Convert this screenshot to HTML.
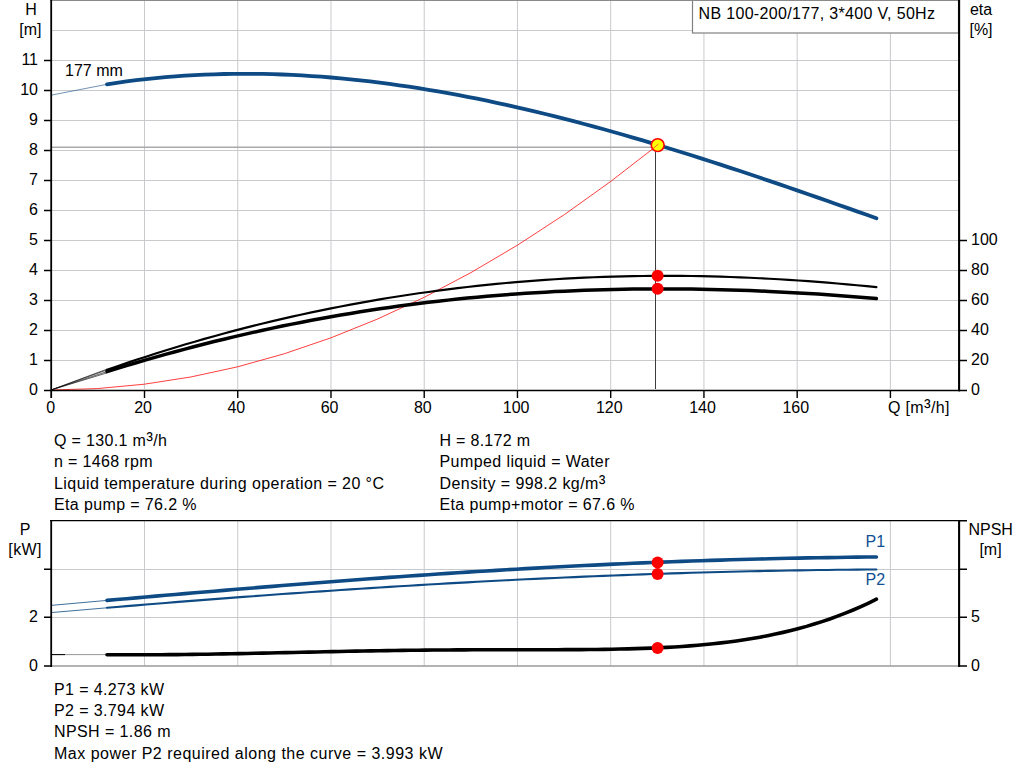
<!DOCTYPE html>
<html><head><meta charset="utf-8"><title>NB 100-200/177 pump curve</title>
<style>html,body{margin:0;padding:0;background:#fff}svg{display:block}text{font-family:"Liberation Sans",sans-serif;font-size:16px;fill:#000}</style></head><body>
<svg width="1024" height="781" viewBox="0 0 1024 781">
<rect width="1024" height="781" fill="#fff"/>
<path d="M52 360.5H958 M52 330.5H958 M52 300.5H958 M52 270.5H958 M52 240.5H958 M52 210.5H958 M52 180.5H958 M52 150.5H958 M52 120.5H958 M52 90.5H958 M52 60.5H958 M52 30.5H958 M144.50 1V389 M237.74 1V389 M330.98 1V389 M424.22 1V389 M517.46 1V389 M610.70 1V389 M703.94 1V389 M797.18 1V389 M890.42 1V389" stroke="#c8cacd" stroke-width="1" fill="none"/>
<rect x="692.5" y="-2" width="266" height="35" fill="#fff" stroke="#808080" stroke-width="1.2"/>
<path d="M50 0.4H960" stroke="#8a8a8a" stroke-width="1.2"/>
<path d="M52 147.2H656" stroke="#a9a9a9" stroke-width="1.6"/>
<path d="M655.5 147V389" stroke="#3c3c3c" stroke-width="1"/>
<polyline points="51.0,390.00 97.7,388.55 144.3,384.20 191.0,376.95 237.7,366.80 284.3,353.76 331.0,337.81 377.7,318.96 424.4,297.22 471.0,272.57 517.7,245.03 564.4,214.59 611.0,181.24 657.7,145.00" fill="none" stroke="#ff1c1c" stroke-width="0.85"/>
<path d="M51 390L107 369.9M51 390L107 371.6M51 390L107 372.9M51 390L107 369.1" stroke="#000" stroke-width="0.6" fill="none"/>
<polyline points="107.0,369.86 116.7,366.45 126.5,363.11 136.2,359.85 146.0,356.65 155.7,353.52 165.4,350.46 175.2,347.47 184.9,344.54 194.7,341.68 204.4,338.89 214.1,336.16 223.9,333.50 233.6,330.90 243.3,328.36 253.1,325.89 262.8,323.49 272.6,321.14 282.3,318.86 292.0,316.64 301.8,314.48 311.5,312.39 321.3,310.35 331.0,308.38 340.7,306.47 350.5,304.61 360.2,302.82 370.0,301.09 379.7,299.42 389.4,297.80 399.2,296.25 408.9,294.75 418.7,293.31 428.4,291.94 438.1,290.62 447.9,289.35 457.6,288.15 467.4,287.00 477.1,285.92 486.8,284.88 496.6,283.91 506.3,282.99 516.0,282.13 525.8,281.32 535.5,280.58 545.3,279.88 555.0,279.25 564.7,278.66 574.5,278.14 584.2,277.67 594.0,277.25 603.7,276.89 613.4,276.58 623.2,276.33 632.9,276.12 642.7,275.98 652.4,275.88 662.1,275.84 671.9,275.85 681.6,275.91 691.4,276.02 701.1,276.18 710.8,276.40 720.6,276.66 730.3,276.97 740.1,277.33 749.8,277.74 759.5,278.20 769.3,278.70 779.0,279.25 788.7,279.85 798.5,280.49 808.2,281.18 818.0,281.91 827.7,282.68 837.4,283.49 847.2,284.35 856.9,285.24 866.7,286.18 876.4,287.15" fill="none" stroke="#000" stroke-width="2.15" stroke-linecap="round"/>
<polyline points="107.0,371.60 116.7,368.59 126.5,365.64 136.2,362.74 146.0,359.90 155.7,357.11 165.4,354.38 175.2,351.70 184.9,349.08 194.7,346.52 204.4,344.02 214.1,341.57 223.9,339.19 233.6,336.86 243.3,334.58 253.1,332.37 262.8,330.22 272.6,328.12 282.3,326.08 292.0,324.10 301.8,322.17 311.5,320.31 321.3,318.50 331.0,316.75 340.7,315.05 350.5,313.42 360.2,311.84 370.0,310.31 379.7,308.85 389.4,307.43 399.2,306.08 408.9,304.78 418.7,303.53 428.4,302.34 438.1,301.20 447.9,300.12 457.6,299.09 467.4,298.11 477.1,297.19 486.8,296.31 496.6,295.49 506.3,294.72 516.0,294.00 525.8,293.33 535.5,292.71 545.3,292.14 555.0,291.62 564.7,291.14 574.5,290.71 584.2,290.33 594.0,290.00 603.7,289.71 613.4,289.47 623.2,289.27 632.9,289.12 642.7,289.01 652.4,288.95 662.1,288.93 671.9,288.95 681.6,289.01 691.4,289.12 701.1,289.27 710.8,289.45 720.6,289.68 730.3,289.95 740.1,290.26 749.8,290.61 759.5,291.00 769.3,291.42 779.0,291.89 788.7,292.39 798.5,292.93 808.2,293.51 818.0,294.12 827.7,294.77 837.4,295.46 847.2,296.19 856.9,296.95 866.7,297.75 876.4,298.59" fill="none" stroke="#000" stroke-width="3.5" stroke-linecap="round"/>
<path d="M51 95.2L107 84.3" stroke="#0e4a84" stroke-width="0.6"/>
<polyline points="107.0,84.32 116.7,82.84 126.5,81.48 136.2,80.24 146.0,79.11 155.7,78.09 165.4,77.19 175.2,76.39 184.9,75.71 194.7,75.13 204.4,74.65 214.1,74.28 223.9,74.02 233.6,73.85 243.3,73.79 253.1,73.82 262.8,73.95 272.6,74.18 282.3,74.50 292.0,74.92 301.8,75.43 311.5,76.03 321.3,76.72 331.0,77.49 340.7,78.35 350.5,79.30 360.2,80.33 370.0,81.45 379.7,82.64 389.4,83.91 399.2,85.27 408.9,86.69 418.7,88.20 428.4,89.78 438.1,91.43 447.9,93.15 457.6,94.94 467.4,96.80 477.1,98.73 486.8,100.72 496.6,102.78 506.3,104.90 516.0,107.08 525.8,109.33 535.5,111.63 545.3,113.99 555.0,116.40 564.7,118.87 574.5,121.39 584.2,123.97 594.0,126.59 603.7,129.26 613.4,131.98 623.2,134.75 632.9,137.56 642.7,140.42 652.4,143.32 662.1,146.26 671.9,149.23 681.6,152.25 691.4,155.30 701.1,158.39 710.8,161.50 720.6,164.66 730.3,167.84 740.1,171.05 749.8,174.29 759.5,177.56 769.3,180.85 779.0,184.16 788.7,187.50 798.5,190.85 808.2,194.23 818.0,197.62 827.7,201.03 837.4,204.45 847.2,207.89 856.9,211.34 866.7,214.80 876.4,218.27" fill="none" stroke="#0e4a84" stroke-width="3.8" stroke-linecap="round"/>
<path d="M51.2 0V398" stroke="#000" stroke-width="1.8" fill="none"/><path d="M959.1 0V391.2" stroke="#000" stroke-width="2.1" fill="none"/><path d="M44 390.45H960" stroke="#000" stroke-width="1.6" fill="none"/>
<path d="M44 360.5H51 M44 330.5H51 M44 300.5H51 M44 270.5H51 M44 240.5H51 M44 210.5H51 M44 180.5H51 M44 150.5H51 M44 120.5H51 M44 90.5H51 M44 60.5H51 M959 390.5H967 M959 360.5H967 M959 330.5H967 M959 300.5H967 M959 270.5H967 M959 240.5H967" stroke="#000" stroke-width="1.6" fill="none"/>
<path d="M144.50 390V398 M237.74 390V398 M330.98 390V398 M424.22 390V398 M517.46 390V398 M610.70 390V398 M703.94 390V398 M797.18 390V398 M890.42 390V398" stroke="#000" stroke-width="1.4" fill="none"/>
<circle cx="657.6" cy="275.7" r="6" fill="#f00"/><circle cx="657.6" cy="288.7" r="6" fill="#f00"/>
<circle cx="657.7" cy="145.1" r="6.4" fill="#ff0" stroke="#f00" stroke-width="1.6"/>
<path d="M650 151L658.5 144" stroke="#ff3a2a" stroke-width="0.8"/>
<text x="38" y="394.8" text-anchor="end">0</text>
<text x="38" y="364.8" text-anchor="end">1</text>
<text x="38" y="334.8" text-anchor="end">2</text>
<text x="38" y="304.8" text-anchor="end">3</text>
<text x="38" y="274.8" text-anchor="end">4</text>
<text x="38" y="244.8" text-anchor="end">5</text>
<text x="38" y="214.8" text-anchor="end">6</text>
<text x="38" y="184.8" text-anchor="end">7</text>
<text x="38" y="154.8" text-anchor="end">8</text>
<text x="38" y="124.8" text-anchor="end">9</text>
<text x="38" y="94.8" text-anchor="end">10</text>
<text x="38" y="64.8" text-anchor="end">11</text>
<text x="971" y="394.8">0</text>
<text x="971" y="364.8">20</text>
<text x="971" y="334.8">40</text>
<text x="971" y="304.8">60</text>
<text x="971" y="274.8">80</text>
<text x="971" y="244.8">100</text>
<text x="50.8" y="412.8" text-anchor="middle">0</text>
<text x="143.1" y="412.8" text-anchor="middle">20</text>
<text x="236.3" y="412.8" text-anchor="middle">40</text>
<text x="329.6" y="412.8" text-anchor="middle">60</text>
<text x="422.8" y="412.8" text-anchor="middle">80</text>
<text x="516.1" y="412.8" text-anchor="middle">100</text>
<text x="609.3" y="412.8" text-anchor="middle">120</text>
<text x="702.5" y="412.8" text-anchor="middle">140</text>
<text x="795.8" y="412.8" text-anchor="middle">160</text>
<text x="888" y="413" textLength="61.5" lengthAdjust="spacing">Q [m<tspan font-size="20" dy="1">³</tspan><tspan dy="-1">/h]</tspan></text>
<text x="31" y="14.5" text-anchor="middle">H</text>
<text x="30.3" y="34.5" text-anchor="middle">[m]</text>
<text x="981" y="14.5" text-anchor="middle">eta</text>
<text x="981" y="34.5" text-anchor="middle">[%]</text>
<text x="65" y="75.5">177 mm</text>
<text x="698.5" y="18.8" textLength="236.5" lengthAdjust="spacing">NB 100-200/177, 3*400 V, 50Hz</text>
<text x="54" y="445.7" textLength="113" lengthAdjust="spacing">Q = 130.1 m<tspan font-size="20" dy="1">³</tspan><tspan dy="-1">/h</tspan></text>
<text x="54" y="467.1" textLength="98.5" lengthAdjust="spacing">n = 1468 rpm</text>
<text x="54" y="488.6" textLength="330" lengthAdjust="spacing">Liquid temperature during operation = 20 °C</text>
<text x="54" y="510" textLength="142.5" lengthAdjust="spacing">Eta pump = 76.2 %</text>
<text x="439.5" y="445.7" textLength="90.5" lengthAdjust="spacing">H = 8.172 m</text>
<text x="439.5" y="467.1" textLength="170" lengthAdjust="spacing">Pumped liquid = Water</text>
<text x="439.5" y="488.6" textLength="166" lengthAdjust="spacing">Density = 998.2 kg/m<tspan font-size="20" dy="1">³</tspan></text>
<text x="439.5" y="510" textLength="195" lengthAdjust="spacing">Eta pump+motor = 67.6 %</text>
<path d="M52 569.5H958 M52 617.5H958 M144.50 521V666 M237.74 521V666 M330.98 521V666 M424.22 521V666 M517.46 521V666 M610.70 521V666 M703.94 521V666 M797.18 521V666 M890.42 521V666" stroke="#c8cacd" stroke-width="1" fill="none"/>
<path d="M52 666H958" stroke="#9a9a9a" stroke-width="1.5"/>
<path d="M50 520.6H960" stroke="#000" stroke-width="1.3"/>
<path d="M51 605.4L107 600.4M51 612.6L107 607.8" stroke="#0e4a84" stroke-width="0.8" fill="none"/>
<polyline points="107.0,600.38 116.7,599.54 126.5,598.69 136.2,597.85 146.0,597.01 155.7,596.16 165.4,595.33 175.2,594.49 184.9,593.66 194.7,592.83 204.4,592.00 214.1,591.18 223.9,590.36 233.6,589.55 243.3,588.74 253.1,587.94 262.8,587.14 272.6,586.35 282.3,585.56 292.0,584.79 301.8,584.01 311.5,583.25 321.3,582.49 331.0,581.74 340.7,581.00 350.5,580.26 360.2,579.53 370.0,578.81 379.7,578.10 389.4,577.40 399.2,576.71 408.9,576.03 418.7,575.36 428.4,574.69 438.1,574.04 447.9,573.40 457.6,572.76 467.4,572.14 477.1,571.53 486.8,570.93 496.6,570.34 506.3,569.76 516.0,569.19 525.8,568.64 535.5,568.09 545.3,567.56 555.0,567.04 564.7,566.53 574.5,566.03 584.2,565.55 594.0,565.08 603.7,564.62 613.4,564.17 623.2,563.73 632.9,563.31 642.7,562.90 652.4,562.50 662.1,562.12 671.9,561.75 681.6,561.39 691.4,561.04 701.1,560.71 710.8,560.39 720.6,560.09 730.3,559.79 740.1,559.51 749.8,559.25 759.5,558.99 769.3,558.75 779.0,558.52 788.7,558.31 798.5,558.11 808.2,557.92 818.0,557.74 827.7,557.58 837.4,557.43 847.2,557.29 856.9,557.17 866.7,557.06 876.4,556.96" fill="none" stroke="#0e4a84" stroke-width="3.6" stroke-linecap="round"/>
<polyline points="107.0,607.75 116.7,606.94 126.5,606.13 136.2,605.33 146.0,604.53 155.7,603.74 165.4,602.95 175.2,602.17 184.9,601.40 194.7,600.64 204.4,599.88 214.1,599.13 223.9,598.38 233.6,597.64 243.3,596.91 253.1,596.19 262.8,595.47 272.6,594.77 282.3,594.06 292.0,593.37 301.8,592.69 311.5,592.01 321.3,591.34 331.0,590.68 340.7,590.03 350.5,589.38 360.2,588.75 370.0,588.12 379.7,587.50 389.4,586.89 399.2,586.29 408.9,585.70 418.7,585.12 428.4,584.54 438.1,583.98 447.9,583.42 457.6,582.88 467.4,582.34 477.1,581.81 486.8,581.29 496.6,580.79 506.3,580.29 516.0,579.80 525.8,579.32 535.5,578.86 545.3,578.40 555.0,577.95 564.7,577.51 574.5,577.09 584.2,576.67 594.0,576.27 603.7,575.87 613.4,575.49 623.2,575.12 632.9,574.75 642.7,574.40 652.4,574.06 662.1,573.73 671.9,573.42 681.6,573.11 691.4,572.82 701.1,572.53 710.8,572.26 720.6,572.00 730.3,571.75 740.1,571.52 749.8,571.29 759.5,571.08 769.3,570.88 779.0,570.69 788.7,570.52 798.5,570.35 808.2,570.20 818.0,570.06 827.7,569.93 837.4,569.82 847.2,569.72 856.9,569.63 866.7,569.55 876.4,569.49" fill="none" stroke="#0e4a84" stroke-width="2.1" stroke-linecap="round"/>
<path d="M51 654.6H107" stroke="#8a8a8a" stroke-width="0.9"/><path d="M51 654.6H65" stroke="#000" stroke-width="1"/>
<polyline points="107.0,654.73 114.8,654.78 122.5,654.81 130.3,654.82 138.1,654.82 145.9,654.80 153.6,654.77 161.4,654.72 169.2,654.66 176.9,654.59 184.7,654.50 192.5,654.41 200.3,654.30 208.0,654.18 215.8,654.05 223.6,653.92 231.3,653.77 239.1,653.62 246.9,653.47 254.7,653.31 262.4,653.14 270.2,652.97 278.0,652.80 285.7,652.63 293.5,652.46 301.3,652.28 309.1,652.11 316.8,651.94 324.6,651.77 332.4,651.61 340.2,651.45 347.9,651.29 355.7,651.14 363.5,651.00 371.2,650.86 379.0,650.73 386.8,650.61 394.6,650.49 402.3,650.38 410.1,650.29 417.9,650.20 425.6,650.12 433.4,650.04 441.2,649.98 449.0,649.93 456.7,649.88 464.5,649.84 472.3,649.81 480.0,649.78 487.8,649.77 495.6,649.75 503.4,649.74 511.1,649.74 518.9,649.73 526.7,649.73 534.4,649.73 542.2,649.72 550.0,649.71 557.8,649.69 565.5,649.67 573.3,649.63 581.1,649.58 588.8,649.52 596.6,649.44 604.4,649.34 612.2,649.21 619.9,649.06 627.7,648.87 635.5,648.66 643.2,648.40 651.0,648.11 658.8,647.77 666.6,647.38 674.3,646.94 682.1,646.44 689.9,645.87 697.7,645.24 705.4,644.54 713.2,643.76 721.0,642.90 728.7,641.95 736.5,640.91 744.3,639.77 752.1,638.52 759.8,637.17 767.6,635.70 775.4,634.10 783.1,632.38 790.9,630.52 798.7,628.52 806.5,626.37 814.2,624.06 822.0,621.60 829.8,618.96 837.5,616.15 845.3,613.16 853.1,609.98 860.9,606.61 868.6,603.03 876.4,599.24" fill="none" stroke="#000" stroke-width="3.6" stroke-linecap="round"/>
<path d="M51.2 520V667" stroke="#000" stroke-width="1.8" fill="none"/><path d="M959.1 520V667" stroke="#000" stroke-width="2.1" fill="none"/>
<path d="M44 569.2H51M44 617.3H51M44 666H51M959 520.8H967M959 569.2H967M959 617.3H967M959 666H967" stroke="#000" stroke-width="1.6" fill="none"/>
<circle cx="657.6" cy="562.4" r="6" fill="#f00"/><circle cx="657.6" cy="574" r="6" fill="#f00"/><circle cx="657.6" cy="648" r="6" fill="#f00"/>
<text x="38" y="622" text-anchor="end">2</text>
<text x="38" y="670.7" text-anchor="end">0</text>
<text x="971" y="622">5</text>
<text x="971" y="670.7">0</text>
<text x="25" y="534.7" text-anchor="middle">P</text>
<text x="8.3" y="554.7" textLength="33.2" lengthAdjust="spacing">[kW]</text>
<text x="990.7" y="535" text-anchor="middle">NPSH</text>
<text x="990.5" y="555" text-anchor="middle">[m]</text>
<text x="865.5" y="546.8" style="fill:#0f4f94">P1</text>
<text x="865.5" y="585" style="fill:#0f4f94">P2</text>
<text x="54" y="694.5" textLength="110" lengthAdjust="spacing">P1 = 4.273 kW</text>
<text x="54" y="715.9" textLength="110" lengthAdjust="spacing">P2 = 3.794 kW</text>
<text x="54" y="737.4" textLength="116.5" lengthAdjust="spacing">NPSH = 1.86 m</text>
<text x="54" y="758.8" textLength="388.5" lengthAdjust="spacing">Max power P2 required along the curve = 3.993 kW</text>
</svg></body></html>
